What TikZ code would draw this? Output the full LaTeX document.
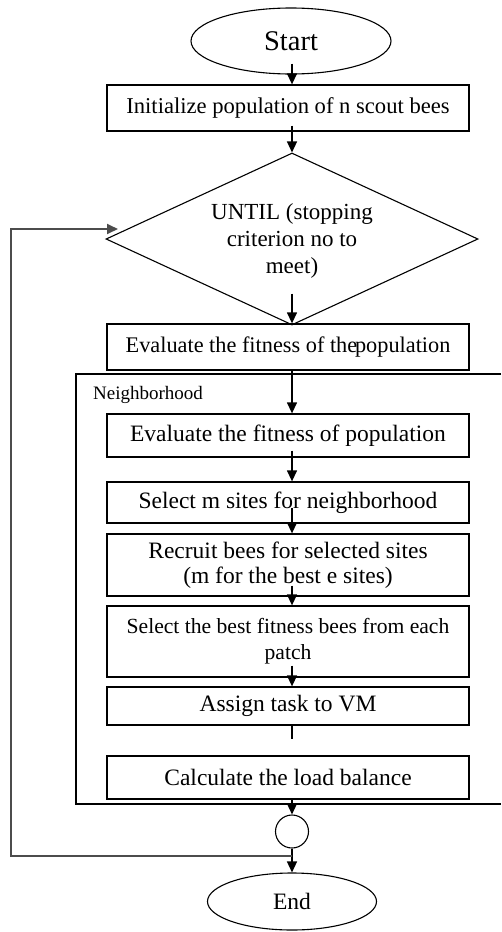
\documentclass[tikz,border=0pt]{standalone}
\usepackage{fontspec}
\setmainfont{Liberation Serif}
\usetikzlibrary{shapes.geometric,arrows.meta,calc}
\begin{document}
\begin{tikzpicture}[x=1pt,y=-1pt,
  box/.style={draw,line width=1.3pt,rectangle,minimum width=362pt,inner sep=0pt,align=center,font=\fontsize{23.5}{25}\selectfont},
  term/.style={draw,line width=1.1pt,ellipse,inner sep=0pt},
  arr/.style={line width=1.3pt,-{Triangle[length=11pt,width=10pt]}},
  ln/.style={line width=1.3pt},
  fbk/.style={line width=1.8pt,draw=black!70,-{Triangle[length=11pt,width=10pt]}},
  lbl/.style={align=center,inner sep=0pt}]
\useasboundingbox (0,0) rectangle (501,932);
\coordinate (axis) at (292,0);
\node[term,minimum width=200pt,minimum height=66pt,font=\fontsize{28.5}{30}\selectfont] (start) at (291,41) {Start};
\node[box,minimum height=46pt,font=\fontsize{22.6}{25}\selectfont] (init) at (288,108) {Initialize population of n scout bees};
\node[draw,diamond,line width=1.1pt,minimum width=372pt,minimum height=172pt,inner sep=0pt] (dec) at (292,239) {};
\node[lbl,font=\fontsize{23}{27}\selectfont] (decl) at (292,241) {UNTIL (stopping\\criterion no to\\meet)};
\node[box,minimum height=46pt,font=\fontsize{22.3}{25}\selectfont] (eval) at (288,347) {Evaluate the fitness of the\hspace{-0.1em}population};
\draw[line width=1.3pt] (501,374) -| (76,804) -- (501,804);
\node[anchor=west,inner sep=0pt,font=\fontsize{19}{20}\selectfont] (nb) at (93,395) {Neighborhood};
\node[box,minimum height=43pt] (n1) at (288,435.5) {Evaluate the fitness of population};
\node[box,minimum height=41pt] (n2) at (288,502.5) {Select m sites for neighborhood};
\node[box,minimum height=62pt,font=\fontsize{23.5}{24.5}\selectfont] (n3) at (288,565) {Recruit bees for selected sites\\(m for the best e sites)};
\node[box,minimum height=71pt,font=\fontsize{21.6}{26}\selectfont] (n4) at (288,641.5) {Select the best fitness bees from each\\patch};
\node[box,minimum height=38pt] (n5) at (288,706) {Assign task to VM};
\node[box,minimum height=43pt] (n6) at (288,777.5) {Calculate the load balance};
\node[draw,circle,line width=1.1pt,minimum size=33pt,inner sep=0pt] (circ) at (292,831.5) {};
\node[term,minimum width=169pt,minimum height=57pt,font=\fontsize{23.5}{25}\selectfont] (end) at (292,901.5) {End};
% connectors
\draw[arr] ($(start.south -| axis)+(0,-11)$) -- (init.north -| axis);
\draw[arr] ($(init.south -| axis)+(0,-6)$) -- (dec.north);
\draw[arr] ($(dec.south)+(0,-32)$) -- (eval.north -| axis);
\draw[arr] (eval.south -| axis) -- (n1.north -| axis);
\draw[arr] ($(n1.south -| axis)+(0,-7)$) -- (n2.north -| axis);
\draw[arr] ($(n2.south -| axis)+(0,-16)$) -- (n3.north -| axis);
\draw[arr] ($(n3.south -| axis)+(0,-11)$) -- (n4.north -| axis);
\draw[arr] ($(n4.south -| axis)+(0,-12)$) -- (n5.north -| axis);
\coordinate (n5end) at (292,739);
\draw[ln] (n5.south -| axis) -- (n5end);
\draw[arr] (n6.south -| axis) -- (circ.north);
\draw[arr] (circ.south) -- (end.north);
\coordinate (fb) at (292,856);
\coordinate (fbx) at (11,0);
\coordinate (fbin) at (118,229);
\draw[fbk] (fb) -- (fb -| fbx) -- (fbx |- fbin) -- (fbin);
\end{tikzpicture}
\end{document}
